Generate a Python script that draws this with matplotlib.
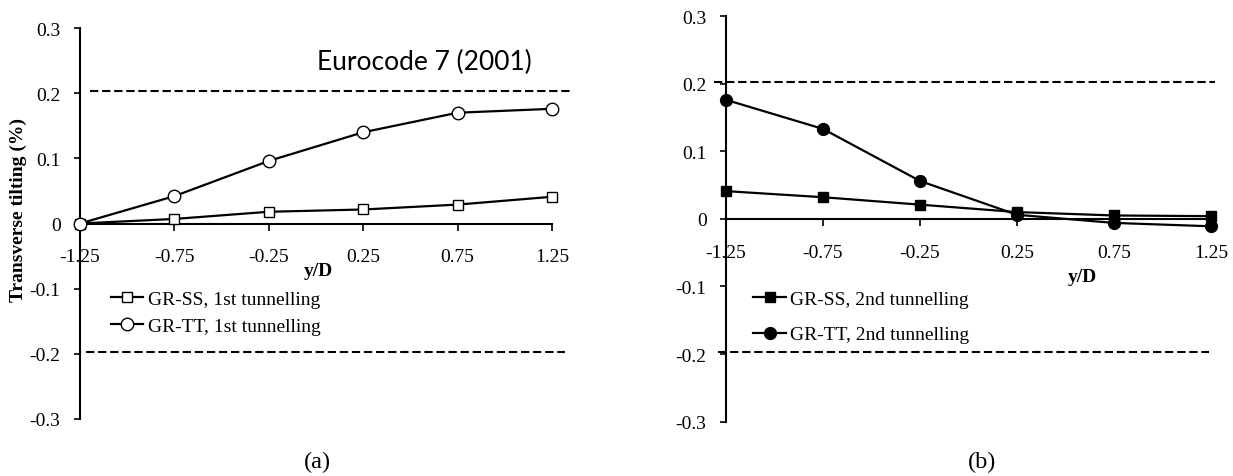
import matplotlib
matplotlib.use("Agg")
import matplotlib.pyplot as plt
from matplotlib.lines import Line2D

plt.rcParams['font.family'] = ['Liberation Serif', 'DejaVu Serif']

# Posiciones y/D (categorias del eje x)
y_over_d = [-1.25, -0.75, -0.25, 0.25, 0.75, 1.25]
x_tick_labels = ['-1.25', '-0.75', '-0.25', '0.25', '0.75', '1.25']
y_ticks = [-0.3, -0.2, -0.1, 0.0, 0.1, 0.2, 0.3]
y_tick_labels = ['-0.3', '-0.2', '-0.1', '0', '0.1', '0.2', '0.3']

# Inclinacion transversal (%) - primer tunel
ss_1st = [0.0, 0.007, 0.018, 0.0215, 0.029, 0.041]
tt_1st = [0.0, 0.042, 0.096, 0.140, 0.170, 0.176]

# Inclinacion transversal (%) - segundo tunel
ss_2nd = [0.041, 0.032, 0.021, 0.010, 0.005, 0.004]
tt_2nd = [0.176, 0.133, 0.056, 0.006, -0.006, -0.011]

# Limites Eurocode 7 (lineas discontinuas)
limit_upper = 0.203
limit_lower = -0.197

W, H = 1233, 477
fig = plt.figure(figsize=(W / 100, H / 100), dpi=100)


def px(x, y):
    """pixel -> coordenadas de figura"""
    return x / W, 1 - y / H


def style_axes(ax):
    ax.set_xlim(-1.25, 1.25)
    ax.set_ylim(-0.3, 0.3)
    for s in ['top', 'right']:
        ax.spines[s].set_visible(False)
    ax.spines['bottom'].set_position(('data', 0))
    ax.spines['left'].set_linewidth(1.5)
    ax.spines['bottom'].set_linewidth(1.5)
    ax.set_xticks(y_over_d)
    ax.set_xticklabels(x_tick_labels)
    ax.set_yticks(y_ticks)
    ax.set_yticklabels(y_tick_labels)
    ax.tick_params(axis='x', direction='out', length=5, width=1.2, pad=13, labelsize=14)
    ax.tick_params(axis='y', direction='out', length=4, width=1.2, pad=10, labelsize=14)
    ax.patch.set_visible(False)


def draw_panel(ax, ss, tt, filled, labels, ms_sq, ms_ci, dash_up, dash_lo):
    face = 'black' if filled else 'white'
    kw_sq = dict(color='black', lw=1.6, marker='s', ms=ms_sq, mfc=face, mec='black', mew=1.0)
    kw_ci = dict(color='black', lw=1.6, marker='o', ms=ms_ci, mfc=face, mec='black', mew=1.0)
    ax.plot(y_over_d, ss, clip_on=False, zorder=4, **kw_sq)
    ax.plot(y_over_d, tt, clip_on=False, zorder=4, **kw_ci)
    ax.axhline(limit_upper, xmin=dash_up[0], xmax=dash_up[1], color='black',
               lw=1.5, ls=(0, (4, 1.8)), clip_on=False)
    ax.axhline(limit_lower, xmin=dash_lo[0], xmax=dash_lo[1], color='black',
               lw=1.5, ls=(0, (4, 1.8)), clip_on=False)
    handles = [Line2D([], [], **kw_sq), Line2D([], [], **kw_ci)]
    return handles, labels


# (a) primer tunel
ax1 = fig.add_axes([80 / W, 57 / H, 472 / W, 391 / H])
style_axes(ax1)
h, l = draw_panel(ax1, ss_1st, tt_1st, False,
                  ['GR-SS, 1st tunnelling', 'GR-TT, 1st tunnelling'],
                  7.5, 9.0, (0.021, 1.038), (0.013, 1.028))
ax1.legend(h, l, loc='upper left', bbox_to_anchor=px(111, 291),
           bbox_transform=fig.transFigure, frameon=False, fontsize=14,
           borderpad=0, borderaxespad=0, handlelength=1.65,
           handletextpad=0.25, labelspacing=0.51)

# (b) segundo tunel
ax2 = fig.add_axes([726 / W, 54.3 / H, 485 / W, 405.7 / H])
style_axes(ax2)
h, l = draw_panel(ax2, ss_2nd, tt_2nd, True,
                  ['GR-SS, 2nd tunnelling', 'GR-TT, 2nd tunnelling'],
                  7.5, 8.5, (-0.024, 1.008), (-0.016, 0.996))
ax2.legend(h, l, loc='upper left', bbox_to_anchor=px(753, 291),
           bbox_transform=fig.transFigure, frameon=False, fontsize=14,
           borderpad=0, borderaxespad=0, handlelength=1.7,
           handletextpad=0.2, labelspacing=0.93)

# Textos
fig.text(*px(18, 210), 'Transverse tilting (%)', rotation=90, ha='center',
         va='center', fontsize=14, fontweight='bold')
fig.text(*px(318, 272), 'y/D', ha='center', va='center', fontsize=14, fontweight='bold')
fig.text(*px(1082, 277), 'y/D', ha='center', va='center', fontsize=14, fontweight='bold')
fig.text(*px(317, 62), 'Eurocode 7 (2001)', ha='left', va='center',
         fontsize=19, family=['Lato', 'DejaVu Sans'])
fig.text(*px(317, 462), '(a)', ha='center', va='center', fontsize=17.5)
fig.text(*px(982, 462), '(b)', ha='center', va='center', fontsize=17.5)

fig.savefig('out.png', dpi=100)
